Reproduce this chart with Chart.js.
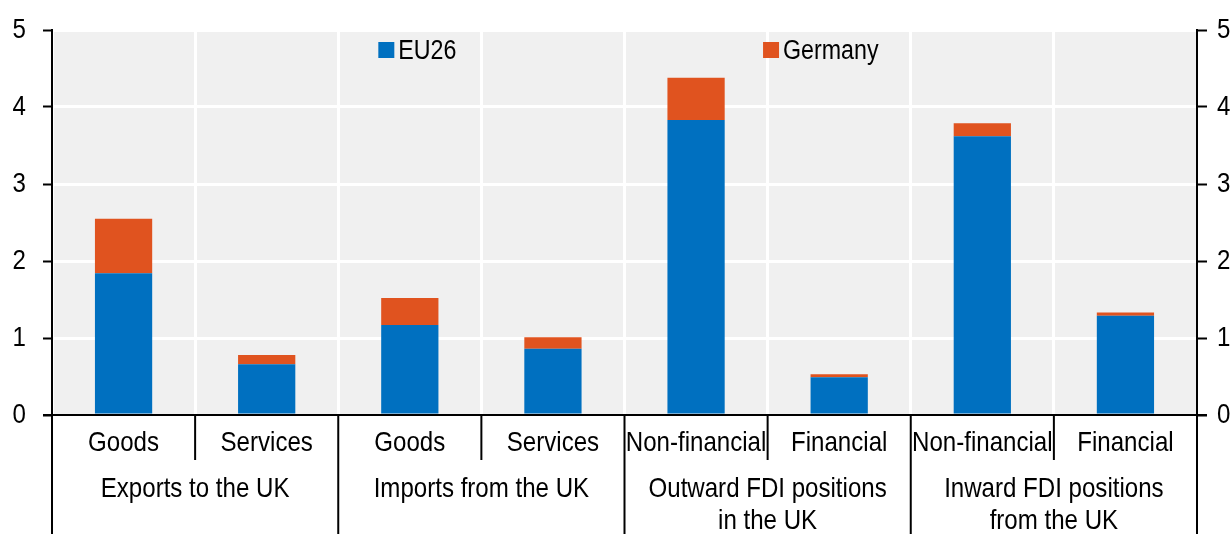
<!DOCTYPE html>
<html>
<head>
<meta charset="utf-8">
<script src="https://cdn.jsdelivr.net/npm/chart.js@4"></script>
<style>
  html, body { margin: 0; padding: 0; background: #fff; overflow: hidden; }
  #wrap { width: 1232px; height: 534px; position: relative; }
</style>
</head>
<body>
<div id="wrap"><canvas id="chart"></canvas></div>
<script>
// category labels and their groups
const categories = ['Goods', 'Services', 'Goods', 'Services', 'Non-financial', 'Financial', 'Non-financial', 'Financial'];
const groups = [['Exports to the UK'], ['Imports from the UK'], ['Outward FDI positions', 'in the UK'], ['Inward FDI positions', 'from the UK']];
const groupSize = 2;

// series values
const eu26 = [1.84, 0.66, 1.17, 0.86, 3.83, 0.49, 3.62, 1.29];
const germany = [0.71, 0.12, 0.35, 0.15, 0.55, 0.04, 0.17, 0.04];

const yTicks = [0, 1, 2, 3, 4, 5];

const FONT = '"Liberation Sans", Arial, sans-serif';
const SQUEEZE = 0.86; // no narrow face installed, so text is squeezed horizontally

function narrowText(c, txt, x, y, align) {
    c.save();
    c.translate(x, y);
    c.scale(SQUEEZE, 1);
    c.textAlign = align;
    c.fillText(txt, 0, 0);
    c.restore();
}

// light grey plot background
const plotBg = {
    id: 'plotBg',
    beforeDraw(chart) {
        const a = chart.chartArea;
        const c = chart.ctx;
        c.save();
        c.fillStyle = '#f0f0f0';
        c.fillRect(a.left, a.top, a.right - a.left, a.bottom - a.top);
        c.restore();
    }
};

// axis lines, tick labels, two-level x labels and the legend
const axisDecor = {
    id: 'axisDecor',
    afterDraw(chart) {
        const a = chart.chartArea;
        const c = chart.ctx;
        const x = chart.scales.x;
        const y = chart.scales.y;
        const H = chart.height;
        c.save();
        c.strokeStyle = '#000';
        c.lineWidth = 2;

        // x axis line
        c.beginPath();
        c.moveTo(a.left - 9, a.bottom);
        c.lineTo(a.right + 10, a.bottom);
        c.stroke();

        // left / right axis lines, running down through the label area
        c.beginPath();
        c.moveTo(a.left, a.top - 1);
        c.lineTo(a.left, H);
        c.moveTo(a.right, a.top - 1);
        c.lineTo(a.right, H);
        c.stroke();

        // separators between categories
        for (let i = 1; i < categories.length; i++) {
            const px = (x.getPixelForValue(i - 1) + x.getPixelForValue(i)) / 2;
            c.beginPath();
            c.moveTo(px, a.bottom);
            c.lineTo(px, i % groupSize === 0 ? H : a.bottom + 45);
            c.stroke();
        }

        c.fillStyle = '#000';
        c.textBaseline = 'middle';
        c.font = '28px ' + FONT;

        // y tick labels, both sides
        yTicks.forEach(v => {
            const py = y.getPixelForValue(v);
            narrowText(c, String(v), a.left - 26, py, 'right');
            narrowText(c, String(v), a.right + 20, py, 'left');
        });

        // category and group labels
        categories.forEach((lab, i) => {
            narrowText(c, lab, x.getPixelForValue(i), a.bottom + 28, 'center');
        });
        groups.forEach((lines, g) => {
            const px = (x.getPixelForValue(g * groupSize) + x.getPixelForValue(g * groupSize + groupSize - 1)) / 2;
            lines.forEach((ln, k) => {
                narrowText(c, ln, px, a.bottom + 74 + k * 32, 'center');
            });
        });

        // legend inside the plot
        const w = a.right - a.left;
        const items = [
            { label: 'EU26', color: '#0070c0', pos: 0.285 },
            { label: 'Germany', color: '#e0531f', pos: 0.621 }
        ];
        c.font = '27px ' + FONT;
        items.forEach(it => {
            const lx = a.left + it.pos * w;
            c.fillStyle = it.color;
            c.fillRect(lx, a.top + 12, 16, 16);
            c.fillStyle = '#000';
            narrowText(c, it.label, lx + 20, a.top + 22, 'left');
        });
        c.restore();
    }
};

const ctx = document.getElementById('chart').getContext('2d');
const chart = new Chart(ctx, {
    type: 'bar',
    data: {
        labels: categories,
        datasets: [
            {
                label: 'EU26',
                data: eu26,
                backgroundColor: '#0070c0',
                barPercentage: 0.4,
                categoryPercentage: 1
            },
            {
                label: 'Germany',
                data: germany,
                backgroundColor: '#e0531f',
                barPercentage: 0.4,
                categoryPercentage: 1
            }
        ]
    },
    options: {
        responsive: true,
        maintainAspectRatio: false,
        animation: false,
        layout: { padding: { top: 30, left: 0, right: 0, bottom: 0 } },
        plugins: {
            legend: { display: false },
            tooltip: { enabled: false }
        },
        scales: {
            x: {
                stacked: true,
                border: { display: false },
                grid: { offset: true, color: '#ffffff', lineWidth: 3, drawTicks: false },
                ticks: { display: false },
                afterFit: s => { s.height = 119; }
            },
            y: {
                stacked: true,
                min: 0,
                max: 5,
                border: { display: false },
                grid: { color: '#ffffff', lineWidth: 3, tickColor: '#000', tickLength: 9, tickWidth: 2 },
                afterBuildTicks: s => { s.ticks = yTicks.map(v => ({ value: v })); },
                ticks: { padding: 17, color: 'rgba(0,0,0,0)', font: { family: FONT, size: 8 } },
                afterFit: s => { s.width = 52; }
            },
            y2: {
                position: 'right',
                min: 0,
                max: 5,
                border: { display: false },
                grid: { drawOnChartArea: false, tickColor: '#000', tickLength: 10, tickWidth: 2 },
                afterBuildTicks: s => { s.ticks = yTicks.map(v => ({ value: v })); },
                ticks: { padding: 8, color: 'rgba(0,0,0,0)', font: { family: FONT, size: 8 } },
                afterFit: s => { s.width = 35; }
            }
        }
    },
    plugins: [plotBg, axisDecor]
});
</script>
</body>
</html>
